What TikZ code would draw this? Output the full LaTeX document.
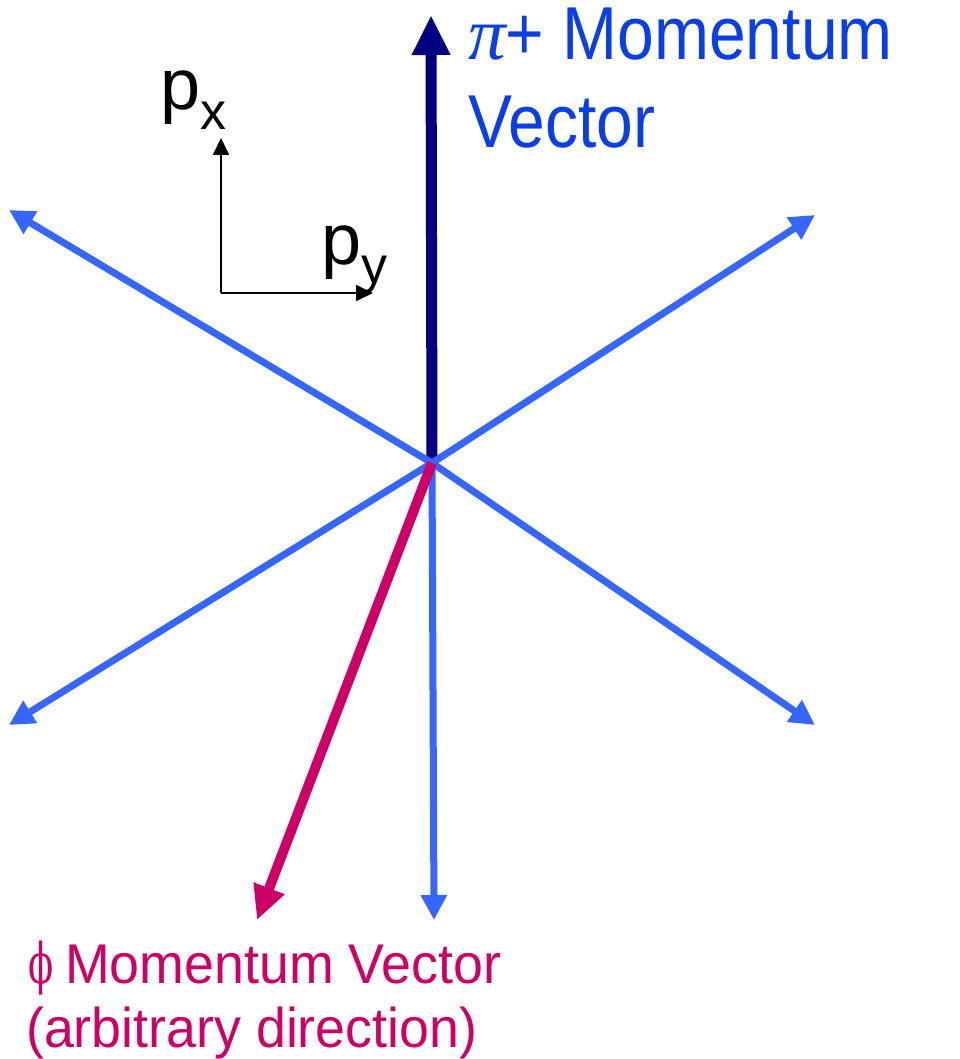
\documentclass[tikz,border=0pt]{standalone}
\usepackage{fontspec}
\setmainfont{Liberation Sans}
\newfontfamily\bluefont[FakeStretch=0.88]{Liberation Sans}
\newfontfamily\pinkfont[FakeStretch=0.96]{Liberation Sans}
\newfontfamily\greekfont{DejaVu Serif}
\newfontfamily\pifont{Liberation Serif}
\usepackage{xcolor}
\usepackage{tikz}
\usetikzlibrary{arrows.meta,positioning,calc}
\definecolor{pionnavy}{RGB}{0,0,128}
\definecolor{raysblue}{RGB}{55,102,255}
\definecolor{textblue}{RGB}{10,62,230}
\definecolor{phimagenta}{RGB}{204,0,102}
\newcommand{\lowsub}[1]{\raisebox{-20pt}{\fontsize{52}{52}\selectfont #1}}

\begin{document}
\begin{tikzpicture}[
    x=1pt, y=-1pt,
    ray/.style={draw=raysblue, line width=7pt, -{Triangle[length=25pt,width=25pt]}},
    pion/.style={draw=pionnavy, line width=11pt, -{Triangle[length=40pt,width=36pt]}},
    phivec/.style={draw=phimagenta, line width=10pt, -{Triangle[length=34pt,width=31pt]}},
    axis/.style={draw=black, line width=2pt, -{Triangle[length=17pt,width=16pt]}},
    axlabel/.style={inner sep=0pt, anchor=base west, font=\fontsize{72}{80}\selectfont},
    bluelabel/.style={inner sep=0pt, anchor=base west, align=left, text=textblue, font=\bluefont\fontsize{75}{88}\selectfont},
    pinklabel/.style={inner sep=0pt, anchor=base west, align=left, text=phimagenta, font=\pinkfont\fontsize{56}{64}\selectfont}
]
    \useasboundingbox (0,0) rectangle (960,1059);

    \coordinate (o) at (432,463);
    \coordinate (pitip) at (431,15);
    \coordinate (upleft) at (9,210);
    \coordinate (upright) at (815,215);
    \coordinate (lowleft) at (9,725);
    \coordinate (lowright) at (815,725);
    \coordinate (down) at (434,920);
    \coordinate (phitip) at (257,920);

    \coordinate (axo) at (221,293);
    \coordinate (axx) at (221,138);
    \coordinate (axy) at (373,293);

    \draw [pion] (o) -- (pitip);
    \foreach \t in {upleft,upright,lowleft,lowright,down}
        \draw [ray] (o) -- (\t);
    \draw [phivec] (o) -- (phitip);

    \draw [axis] (axo) -- (axx);
    \draw [axis] (axo) -- (axy);

    \node [axlabel] (pxlabel) at (160,110) {p\lowsub{x}};
    \node [axlabel] (pylabel) at (321,264) {p\lowsub{y}};

    \node [bluelabel] (piontext) at (468,148) {{\pifont\itshape π}+ Momentum\\Vector};
    \node [pinklabel] (phitext) at (26,1047) {\makebox[39pt][l]{\hspace{2pt}\scalebox{0.66}[1]{\greekfont ϕ}}Momentum Vector\\(arbitrary direction)};
\end{tikzpicture}
\end{document}
